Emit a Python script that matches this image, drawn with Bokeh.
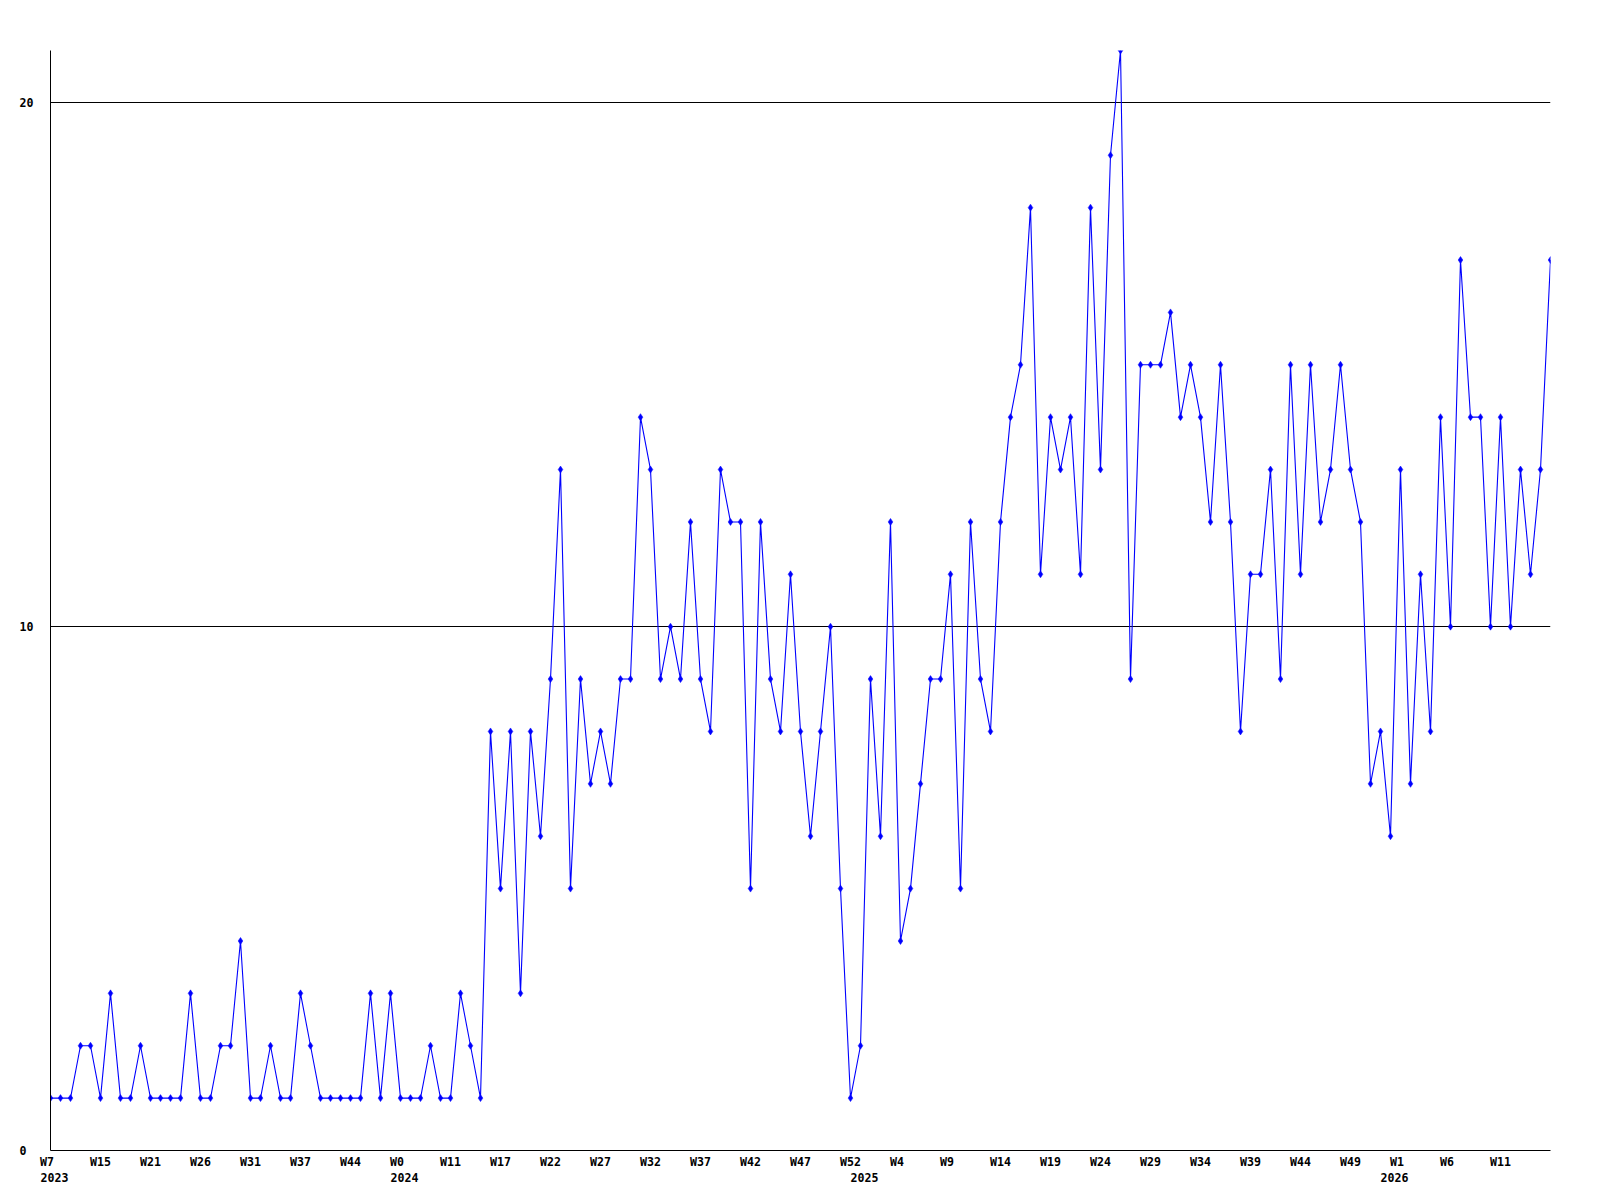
from bokeh.plotting import figure
from bokeh.models import ColumnDataSource, Range1d, FixedTicker, LinearAxis
from bokeh.embed import file_html
from bokeh.resources import INLINE

# weekly counts, one value per week point
counts = [1, 1, 1, 2, 2, 1, 3, 1, 1, 2,
          1, 1, 1, 1, 3, 1, 1, 2, 2, 4,
          1, 1, 2, 1, 1, 3, 2, 1, 1, 1,
          1, 1, 3, 1, 3, 1, 1, 1, 2, 1,
          1, 3, 2, 1, 8, 5, 8, 3, 8, 6,
          9, 13, 5, 9, 7, 8, 7, 9, 9, 14,
          13, 9, 10, 9, 12, 9, 8, 13, 12, 12,
          5, 12, 9, 8, 11, 8, 6, 8, 10, 5,
          1, 2, 9, 6, 12, 4, 5, 7, 9, 9,
          11, 5, 12, 9, 8, 12, 14, 15, 18, 11,
          14, 13, 14, 11, 18, 13, 19, 21, 9, 15,
          15, 15, 16, 14, 15, 14, 12, 15, 12, 8,
          11, 11, 13, 9, 15, 11, 15, 12, 13, 15,
          13, 12, 7, 8, 6, 13, 7, 11, 8, 14,
          10, 17, 14, 14, 10, 14, 10, 13, 11, 13,
          17]

week_labels = ["W7", "W15", "W21", "W26", "W31", "W37", "W44", "W0", "W11", "W17",
               "W22", "W27", "W32", "W37", "W42", "W47", "W52", "W4", "W9", "W14",
               "W19", "W24", "W29", "W34", "W39", "W44", "W49", "W1", "W6", "W11"]
year_labels = ["2023", "2024", "2025", "2026"]
year_tick_pos = [0.4, 35.4, 81.4, 134.4]

y_ticks = [0, 10, 20]
y_tick_labels = ["0", "10", "20"]

n = len(counts)
xs = list(range(n))
src = ColumnDataSource(data=dict(x=xs, y=counts))

FONT = "DejaVu Sans Mono"
FSIZE = "11.6px"

p = figure(frame_width=1500, frame_height=1100,
           x_range=Range1d(0, n - 1), y_range=Range1d(0, 21),
           output_backend="svg", toolbar_location=None,
           min_border_left=50, min_border_top=50, min_border_right=20,
           min_border_bottom=5)
p.outline_line_color = None
p.background_fill_color = "white"
p.border_fill_color = "white"

p.line("x", "y", source=src, line_color="#0000FF", line_width=1.1)
p.scatter("x", "y", source=src, marker="diamond", size=7,
          line_color="#0000FF", fill_color="#0000FF", line_width=0.5)

# grid
p.xgrid.visible = False
p.ygrid.ticker = FixedTicker(ticks=y_ticks)
p.ygrid.grid_line_color = "black"
p.ygrid.grid_line_width = 1

# x axis (week labels)
xa = p.xaxis[0]
wk_ticks = [5 * j for j in range(len(week_labels))]
xa.ticker = FixedTicker(ticks=wk_ticks)
xa.major_label_overrides = {t: (lab + "\u00a0" * (3 - len(lab))) for t, lab in zip(wk_ticks, week_labels)}
xa.axis_line_color = "black"
xa.axis_line_width = 1
xa.major_tick_line_color = None
xa.minor_tick_line_color = None
xa.major_tick_out = 0
xa.major_tick_in = 0
xa.major_label_standoff = 4
xa.major_label_text_font = FONT
xa.major_label_text_font_style = "bold"
xa.major_label_text_font_size = FSIZE
xa.major_label_text_color = "black"

# year axis
ya2 = LinearAxis(ticker=FixedTicker(ticks=year_tick_pos))
ya2.major_label_overrides = {t: lab for t, lab in zip(year_tick_pos, year_labels)}
ya2.axis_line_color = None
ya2.major_tick_line_color = None
ya2.minor_tick_line_color = None
ya2.major_tick_out = 0
ya2.major_tick_in = 0
ya2.major_label_standoff = 1
ya2.major_label_text_font = FONT
ya2.major_label_text_font_style = "bold"
ya2.major_label_text_font_size = FSIZE
ya2.major_label_text_color = "black"
p.add_layout(ya2, "below")

# y axis
ya = p.yaxis[0]
ya.ticker = FixedTicker(ticks=y_ticks)
ya.major_label_overrides = {t: (lab + "\u00a0" * (2 - len(lab))) for t, lab in zip(y_ticks, y_tick_labels)}
ya.axis_line_color = "black"
ya.axis_line_width = 1
ya.major_tick_line_color = None
ya.minor_tick_line_color = None
ya.major_tick_out = 0
ya.major_tick_in = 0
ya.major_label_standoff = 17
ya.major_label_text_font = FONT
ya.major_label_text_font_style = "bold"
ya.major_label_text_font_size = FSIZE
ya.major_label_text_color = "black"

open("out.html", "w").write(file_html(p, INLINE))
